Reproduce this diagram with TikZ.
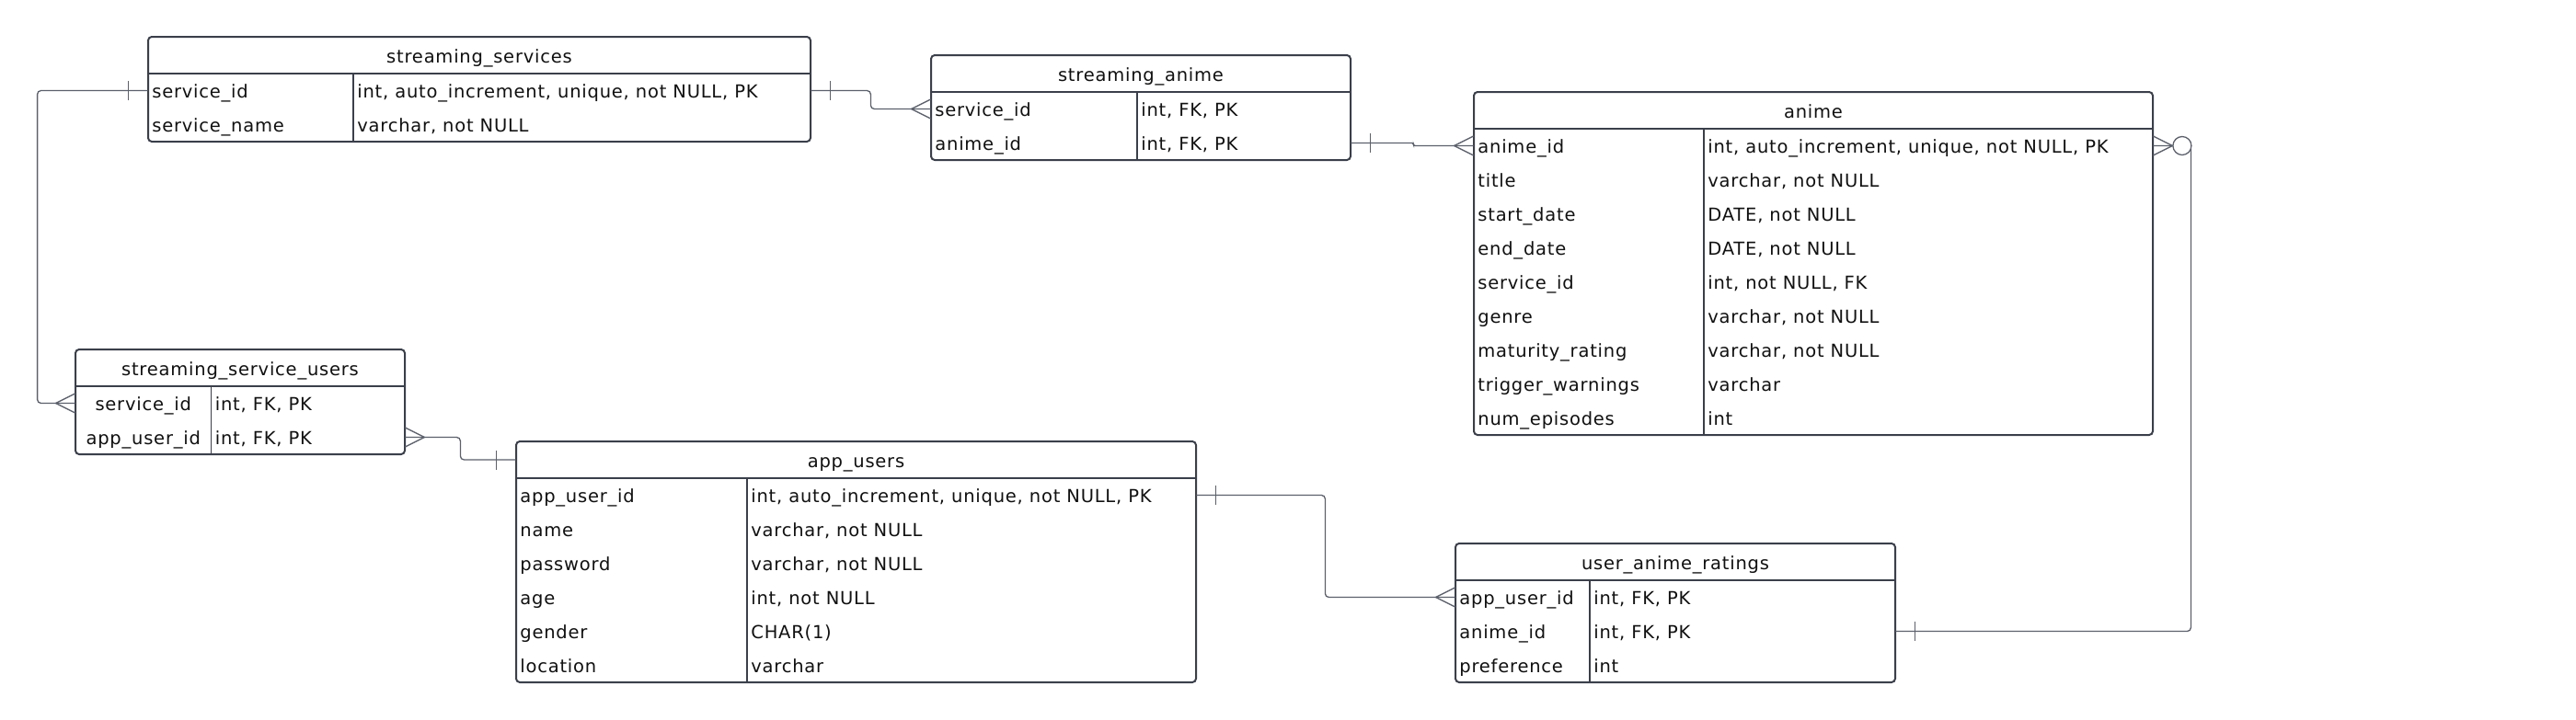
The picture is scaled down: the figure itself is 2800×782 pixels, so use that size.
\documentclass[tikz,border=0pt]{standalone}
\usepackage{fontspec}
\setmainfont{DejaVu Sans}[LetterSpace=4.0]
\definecolor{framegray}{HTML}{3A3F4A}
\definecolor{linkgray}{HTML}{5B606B}
\definecolor{ink}{HTML}{111111}

\def\centerkey{center}
% #1 key column alignment, #2 name, #3 title, #4 left, #5 top, #6 width, #7 divider, #8 rows
\newcommand{\ertable}[8][west]{%
  \def\keyalign{#1}%
  \begin{scope}[shift={(#4,#5)}]
    \node[header, minimum width=#6*0.5pt] (#2) at (#6/2,20) {#3};
    \foreach \attr/\kind [count=\i] in {#8} {
      \node[rowbox, minimum width=#6*0.5pt] (#2-\i) at (#6/2,21.5+37*\i) {};
      \ifx\keyalign\centerkey
        \node[field] at (#7/2,21.5+37*\i) {\attr};
      \else
        \node[field, anchor=west] at (4,21.5+37*\i) {\attr};
      \fi
      \node[field, anchor=west] at (#7+4,21.5+37*\i) {\kind};
      \xdef\nrows{\i}
    }
    \draw[frame] (0,40) -- (#6,40);
    \draw[divline] (#7,40) -- (#7,40+37*\nrows);
    \draw[frame, rounded corners=2pt] (0,0) rectangle (#6,40+37*\nrows);
  \end{scope}}

\begin{document}
\begin{tikzpicture}[x=0.5pt,y=-0.5pt,
    font=\fontsize{9.75pt}{11pt}\selectfont, text=ink,
    header/.style={minimum height=20pt, inner sep=0pt, text height=0.8em, text depth=0pt},
    rowbox/.style={minimum height=18.5pt, inner sep=0pt},
    field/.style={inner sep=0pt, text height=0.8em, text depth=0pt},
    frame/.style={draw=framegray, line width=1pt},
    divline/.style={draw=framegray, line width=0.9pt},
    rel/.style={draw=linkgray, line width=0.65pt},
    onemark/.pic={\draw[rel] (21,-10.5) -- (21,10.5);},
    manymark/.pic={\draw[rel] (0,-10.5) -- (21,0) -- (0,10.5);},
    zeromany/.pic={\draw[rel] (0,-10.5) -- (21,0) -- (0,10.5);
                   \draw[rel, fill=white] (31.5,0) circle (10);}]
  \fill[white] (0,0) rectangle (2800,782);

  \ertable{ss}{streaming\_services}{161}{40}{720}{223}{%
    service\_id/{int, auto\_increment, unique, not NULL, PK},
    service\_name/{varchar, not NULL}}
  \ertable{sa}{streaming\_anime}{1012}{60}{456}{224}{%
    service\_id/{int, FK, PK},
    anime\_id/{int, FK, PK}}
  \ertable{anime}{anime}{1602}{100}{738}{250}{%
    anime\_id/{int, auto\_increment, unique, not NULL, PK},
    title/{varchar, not NULL},
    start\_date/{DATE, not NULL},
    end\_date/{DATE, not NULL},
    service\_id/{int, not NULL, FK},
    genre/{varchar, not NULL},
    maturity\_rating/{varchar, not NULL},
    trigger\_warnings/{varchar},
    num\_episodes/{int}}
  \ertable[center]{ssu}{streaming\_service\_users}{82}{380}{358}{147.5}{%
    service\_id/{int, FK, PK},
    app\_user\_id/{int, FK, PK}}
  \ertable{au}{app\_users}{561}{480}{739}{251}{%
    app\_user\_id/{int, auto\_increment, unique, not NULL, PK},
    name/{varchar, not NULL},
    password/{varchar, not NULL},
    age/{int, not NULL},
    gender/{CHAR(1)},
    location/{varchar}}
  \ertable{uar}{user\_anime\_ratings}{1582}{591}{478}{146}{%
    app\_user\_id/{int, FK, PK},
    anime\_id/{int, FK, PK},
    preference/{int}}

  % relationships
  \draw[rel, rounded corners=2pt] (ss-1.west) -- ++(-120,0) |- (ssu-1.west);
  \draw[rel, rounded corners=2pt] (ss-1.east) -- ++(65,0) |- (sa-1.west);
  \draw[rel, rounded corners=1pt] (sa-2.east) -- ++(68,0) |- (anime-1.west);
  \draw[rel, rounded corners=2pt] (anime-1.east) -- ++(41,0) |- (uar-2.east);
  \draw[rel, rounded corners=2pt] (au-1.east) -- ++(140,0) |- (uar-1.west);
  \draw[rel, rounded corners=2pt] (ssu-2.east) -- ++(60,0) |- (au.west);

  \pic[rotate=180] at (ss-1.west) {onemark};
  \pic[rotate=180] at (ssu-1.west) {manymark};
  \pic at (ss-1.east) {onemark};
  \pic[rotate=180] at (sa-1.west) {manymark};
  \pic at (sa-2.east) {onemark};
  \pic[rotate=180] at (anime-1.west) {manymark};
  \pic at (anime-1.east) {zeromany};
  \pic at (uar-2.east) {onemark};
  \pic at (au-1.east) {onemark};
  \pic[rotate=180] at (uar-1.west) {manymark};
  \pic at (ssu-2.east) {manymark};
  \pic[rotate=180] at (au.west) {onemark};
\end{tikzpicture}
\end{document}
